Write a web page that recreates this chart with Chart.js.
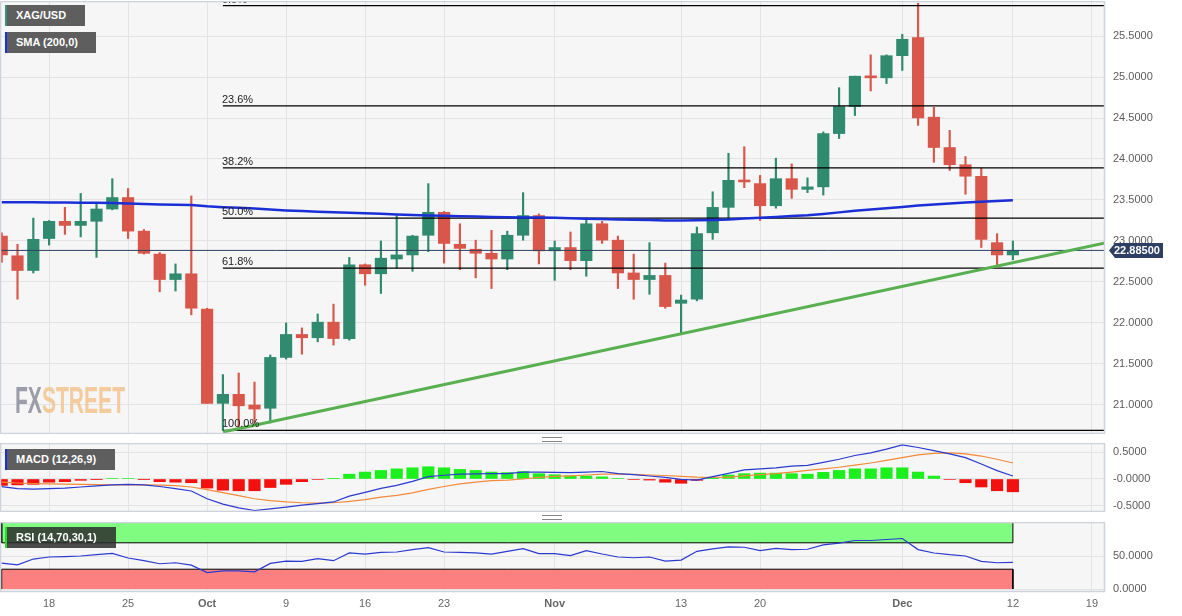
<!DOCTYPE html>
<html>
<head>
<meta charset="utf-8">
<script src="https://cdn.jsdelivr.net/npm/chart.js@4.4.0/dist/chart.umd.min.js"></script>
<style>
  body { margin: 0; width: 1182px; height: 616px; overflow: hidden; position: relative; background: #fff;
         font-family: "Liberation Sans", Arial, sans-serif; }
  .panel { position: absolute; left: 0; width: 1182px; }
  .etiqueta { position: absolute; left: 5px; height: 21px; line-height: 21px; box-sizing: border-box;
              background: #5e5e5e; color: #fff; font-weight: bold; font-size: 11px; padding-left: 9px;
              border-left: 2.5px solid; white-space: nowrap; }
  .marca { position: absolute; left: 15px; top: 380px; font-weight: bold; font-size: 36px; letter-spacing: 0;
           transform: scaleX(0.585); transform-origin: left top; opacity: 0.85; }
  .asa { position: absolute; left: 542px; width: 20px; height: 3px; border-top: 1px solid #888; border-bottom: 1px solid #888; }
</style>
</head>
<body>
<div class="panel" style="top:1px;height:433px"><canvas id="graficoPrecio"></canvas></div>
<div class="panel" style="top:443px;height:69px"><canvas id="graficoMacd"></canvas></div>
<div class="panel" style="top:522px;height:95px"><canvas id="graficoRsi"></canvas></div>

<div class="etiqueta" style="top:5px;width:80px;border-color:#3b8f72">XAG/USD</div>
<div class="etiqueta" style="top:32px;width:91px;border-color:#1530e0">SMA (200,0)</div>
<div class="etiqueta" style="top:449px;width:110px;border-color:#1530e0">MACD (12,26,9)</div>
<div class="etiqueta" style="top:527px;width:111px;border-color:#22dd22;background:rgba(45,45,45,0.85)">RSI (14,70,30,1)</div>
<div class="marca"><span style="color:#8e8e9c">FX</span><span style="color:#f2c48e">STREET</span></div>
<div class="asa" style="top:437px"></div>
<div class="asa" style="top:515px"></div>

<script>
// velas diarias XAG/USD, 13 sep - 12 dic
const apertura = [23.06, 22.82, 22.64, 23.03, 23.24, 23.19, 23.24, 23.39, 23.53, 23.12,
                  22.84, 22.53, 22.60, 22.17, 21.02, 21.13, 21.00, 20.96, 21.58, 21.86,
                  21.82, 22.01, 21.81, 22.71, 22.60, 22.78, 22.83, 23.07, 23.35, 22.96,
                  22.90, 22.85, 22.78, 23.07, 23.31, 22.88, 22.92, 22.76, 23.21, 23.01,
                  22.61, 22.53, 22.58, 22.24, 22.29, 23.10, 23.41, 23.74, 23.70, 23.43,
                  23.76, 23.63, 23.66, 24.31, 24.64, 25.01, 24.99, 25.26, 25.48, 24.51,
                  24.14, 23.93, 23.79, 22.98, 22.83];
const maximo = [23.10, 22.96, 23.28, 23.25, 23.41, 23.58, 23.46, 23.76, 23.64, 23.14,
                22.86, 22.72, 23.55, 22.18, 21.37, 21.39, 21.28, 21.61, 22.00, 21.94,
                22.11, 22.23, 22.80, 22.72, 23.00, 23.31, 23.07, 23.70, 23.36, 23.21,
                23.01, 23.13, 23.12, 23.59, 23.33, 23.00, 23.11, 23.28, 23.24, 23.06,
                22.84, 22.98, 22.73, 22.34, 23.17, 23.60, 24.07, 24.15, 23.80, 24.01,
                23.94, 23.77, 24.33, 24.87, 25.01, 25.27, 25.27, 25.52, 25.90, 24.63,
                24.35, 24.03, 23.89, 23.09, 23.00];
const minimo = [22.74, 22.29, 22.61, 22.95, 23.08, 23.05, 22.80, 23.38, 23.03, 22.84,
                22.38, 22.39, 22.10, 21.02, 20.69, 20.72, 20.78, 20.78, 21.56, 21.62,
                21.77, 21.73, 21.79, 22.46, 22.36, 22.67, 22.63, 22.87, 22.73, 22.65,
                22.55, 22.42, 22.65, 23.01, 22.72, 22.52, 22.65, 22.57, 22.97, 22.42,
                22.29, 22.35, 22.18, 21.88, 22.27, 23.02, 23.28, 23.65, 23.25, 23.40,
                23.52, 23.59, 23.56, 24.25, 24.53, 24.83, 24.92, 25.08, 24.41, 23.96,
                23.86, 23.57, 22.92, 22.70, 22.77];
const cierre = [22.83, 22.64, 23.02, 23.24, 23.19, 23.24, 23.39, 23.53, 23.12, 22.85,
                22.53, 22.60, 22.18, 21.02, 21.13, 20.99, 20.95, 21.58, 21.86, 21.82,
                22.01, 21.81, 22.71, 22.60, 22.79, 22.83, 23.06, 23.35, 22.97, 22.91,
                22.85, 22.78, 23.07, 23.31, 22.88, 22.92, 22.76, 23.21, 23.01, 22.61,
                22.53, 22.58, 22.20, 22.28, 23.09, 23.41, 23.74, 23.72, 23.43, 23.76,
                23.63, 23.66, 24.31, 24.64, 25.01, 24.99, 25.26, 25.46, 24.50, 24.14,
                23.93, 23.79, 23.02, 22.83, 22.885];
const sma200 = [23.472, 23.472, 23.471, 23.470, 23.468, 23.467, 23.467, 23.463, 23.456, 23.450,
                23.446, 23.443, 23.439, 23.423, 23.413, 23.404, 23.395, 23.384, 23.373, 23.365,
                23.357, 23.350, 23.344, 23.337, 23.331, 23.324, 23.318, 23.312, 23.307, 23.302,
                23.298, 23.293, 23.289, 23.288, 23.285, 23.282, 23.277, 23.272, 23.268, 23.263,
                23.259, 23.255, 23.250, 23.249, 23.252, 23.257, 23.262, 23.273, 23.283, 23.294,
                23.304, 23.313, 23.329, 23.349, 23.368, 23.383, 23.399, 23.415, 23.432, 23.446,
                23.457, 23.468, 23.478, 23.488, 23.496];
const macd = [-0.144, -0.18, -0.19, -0.18, -0.17, -0.15, -0.13, -0.11, -0.10, -0.11,
              -0.14, -0.18, -0.225, -0.37, -0.47, -0.54, -0.59, -0.56, -0.525, -0.49,
              -0.46, -0.43, -0.32, -0.25, -0.175, -0.12, -0.045, 0.044, 0.07, 0.09,
              0.095, 0.10, 0.10, 0.13, 0.13, 0.125, 0.12, 0.13, 0.14, 0.10,
              0.08, 0.056, 0.03, -0.006, -0.02, 0.044, 0.106, 0.17, 0.19, 0.21,
              0.24, 0.256, 0.31, 0.37, 0.44, 0.49, 0.56, 0.64, 0.59, 0.53,
              0.47, 0.40, 0.28, 0.156, 0.056];
const senal = [-0.06, -0.075, -0.085, -0.09, -0.095, -0.10, -0.105, -0.11, -0.11, -0.11,
               -0.115, -0.125, -0.15, -0.20, -0.255, -0.31, -0.37, -0.405, -0.43, -0.445,
               -0.45, -0.445, -0.42, -0.385, -0.34, -0.305, -0.26, -0.195, -0.14, -0.09,
               -0.06, -0.03, -0.02, 0.0, 0.03, 0.05, 0.06, 0.075, 0.09, 0.09,
               0.085, 0.075, 0.065, 0.05, 0.035, 0.03, 0.035, 0.06, 0.08, 0.10,
               0.13, 0.16, 0.19, 0.22, 0.26, 0.30, 0.35, 0.40, 0.45, 0.48,
               0.49, 0.47, 0.43, 0.37, 0.30];
const histograma = [-0.12, -0.11, -0.10, -0.06, -0.05, -0.025, -0.005, 0.01, 0.01, -0.005,
                    -0.05, -0.06, -0.07, -0.17, -0.21, -0.22, -0.22, -0.16, -0.10, -0.05,
                    -0.01, 0.005, 0.09, 0.13, 0.16, 0.19, 0.21, 0.23, 0.21, 0.18,
                    0.16, 0.13, 0.12, 0.14, 0.10, 0.08, 0.06, 0.055, 0.04, 0.01,
                    -0.01, -0.02, -0.06, -0.08, -0.025, 0.02, 0.075, 0.10, 0.11, 0.11,
                    0.10, 0.09, 0.125, 0.16, 0.19, 0.19, 0.21, 0.21, 0.13, 0.055,
                    -0.01, -0.07, -0.15, -0.22, -0.24];
const rsi = [39.3, 36.7, 45.4, 48.5, 49, 50, 52, 54, 47, 43,
             38.3, 39.8, 36.2, 25, 27.6, 27.6, 26, 38.8, 42.3, 41.8,
             45.9, 42.9, 54.6, 53, 55.6, 56.1, 59.7, 62.8, 56.1, 55.6,
             54.6, 53, 57.1, 61.2, 53.6, 53.6, 50.5, 58.2, 53, 48.5,
             47.4, 48.5, 42.3, 43.9, 57.1, 60.7, 63.8, 63.3, 58.2, 61.7,
             59.7, 60.2, 66.8, 69.4, 73.5, 73.5, 75, 76.5, 59.7, 54.6,
             52, 50, 41.8, 39.8, 40.3];

// eje de fechas: posicion (indice de sesion) y texto
const posFechas = [3, 8, 13, 18, 23, 28, 35, 43, 48, 57, 64, 69];
const textoFechas = ['18', '25', 'Oct', '9', '16', '23', 'Nov', '13', '20', 'Dec', '12', '19'];
const meses = ['Oct', 'Nov', 'Dec'];
const ticksPrecio = [21, 21.5, 22, 22.5, 23, 23.5, 24, 24.5, 25, 25.5];
const ticksMacd = [-0.5, 0, 0.5];
const ticksRsi = [0, 50];

// fibonacci entre el minimo del 3 oct y el maximo del 4 dic
const fibAlto = 25.87;
const fibBajo = 20.69;
const fibInicio = 14;
const nivelesFib = [0, 23.6, 38.2, 50, 61.8, 100];
const lineaTendencia = [[14, 20.67], [69.83, 22.976]];

const X_MIN = -0.108;
const X_MAX = 69.83;
const ultimo = cierre.length - 1;
const VERDE = '#2f8a6e';
const ROJO = '#d9574a';

Chart.defaults.font.family = '"Liberation Sans", Arial, sans-serif';
Chart.defaults.font.size = 11;
Chart.defaults.color = '#5c5c5c';
Chart.defaults.animation = false;
Chart.defaults.events = [];

const fondoPanel = {
    id: 'fondoPanel',
    beforeDraw(chart) {
        const { ctx, chartArea: a } = chart;
        ctx.save();
        ctx.fillStyle = '#f6f6f6';
        ctx.fillRect(a.left, a.top, a.right - a.left, a.bottom - a.top);
        ctx.restore();
    },
    afterDraw(chart) {
        const { ctx, chartArea: a } = chart;
        ctx.save();
        ctx.strokeStyle = '#cdd2dc';
        ctx.lineWidth = 1.5;
        ctx.strokeRect(a.left + 0.5, a.top + 0.5, a.right - a.left - 1, a.bottom - a.top - 1);
        ctx.restore();
    }
};

const etiquetasFib = {
    id: 'etiquetasFib',
    afterDatasetsDraw(chart) {
        const { ctx, scales: { x, y } } = chart;
        ctx.save();
        ctx.font = '11px "Liberation Sans", Arial, sans-serif';
        ctx.fillStyle = '#222';
        nivelesFib.forEach(p => {
            const v = fibAlto - (fibAlto - fibBajo) * p / 100;
            ctx.fillText(p.toFixed(1) + '%', x.getPixelForValue(fibInicio) - 1, y.getPixelForValue(v) - 3);
        });
        ctx.restore();
    }
};

const etiquetaPrecio = {
    id: 'etiquetaPrecio',
    afterDraw(chart) {
        const { ctx, chartArea: a, scales: { y } } = chart;
        const precio = cierre[ultimo];
        const py = y.getPixelForValue(precio);
        const x0 = a.right + 4, x1 = x0 + 6, x2 = a.right + 58, h = 7.5;
        ctx.save();
        ctx.fillStyle = '#2d3f63';
        ctx.beginPath();
        ctx.moveTo(x0, py);
        ctx.lineTo(x1, py - h);
        ctx.lineTo(x2, py - h);
        ctx.lineTo(x2, py + h);
        ctx.lineTo(x1, py + h);
        ctx.closePath();
        ctx.fill();
        ctx.fillStyle = '#fff';
        ctx.font = 'bold 11px "Liberation Sans", Arial, sans-serif';
        ctx.textBaseline = 'middle';
        ctx.fillText(precio.toFixed(5), x1 - 1, py + 0.5);
        ctx.restore();
    }
};

function ejeX(conTextos) {
    return {
        type: 'linear',
        min: X_MIN,
        max: X_MAX,
        offset: false,
        afterBuildTicks: s => { s.ticks = posFechas.map(v => ({ value: v })); },
        afterFit: s => { s.height = conTextos ? 25 : 0; s.paddingLeft = 0; s.paddingRight = 0; },
        grid: { color: '#e3e3e3', drawTicks: false, offset: false },
        border: { display: false },
        ticks: {
            display: conTextos,
            autoSkip: false,
            maxRotation: 0,
            padding: 5,
            color: '#666',
            font: c => ({ size: 11, weight: meses.includes(textoFechas[c.index]) ? 'bold' : 'normal' }),
            callback: (v, i) => textoFechas[i]
        }
    };
}

function ejeY(min, max, ticks, formato) {
    return {
        type: 'linear',
        position: 'right',
        min: min,
        max: max,
        afterBuildTicks: s => { s.ticks = ticks.map(v => ({ value: v })); },
        afterFit: s => { s.width = 77; s.paddingTop = 0; s.paddingBottom = 0; },
        grid: { color: '#e3e3e3', drawTicks: false },
        border: { display: false },
        ticks: { padding: 8, callback: formato }
    };
}

function linea(puntos, color, ancho, orden) {
    return {
        type: 'line',
        data: puntos,
        borderColor: color,
        borderWidth: ancho,
        pointRadius: 0,
        tension: 0,
        fill: false,
        order: orden
    };
}

function colorVela(i) {
    return cierre[i] >= apertura[i] ? VERDE : ROJO;
}

function crearGraficoPrecio() {
    const cuerpos = apertura.map((o, i) => ({ x: i, y: [o, cierre[i]] }));
    const mechas = apertura.map((o, i) => ({ x: i, y: [minimo[i], maximo[i]] }));
    const puntosFib = [];
    nivelesFib.forEach(p => {
        const v = fibAlto - (fibAlto - fibBajo) * p / 100;
        puntosFib.push({ x: fibInicio, y: v }, { x: X_MAX, y: v }, { x: X_MAX, y: null });
    });

    new Chart(document.getElementById('graficoPrecio'), {
        type: 'bar',
        data: {
            datasets: [
                {
                    data: cuerpos,
                    backgroundColor: c => colorVela(c.dataIndex),
                    barThickness: 11.5,
                    minBarLength: 2,
                    grouped: false,
                    order: 10
                },
                {
                    data: mechas,
                    backgroundColor: c => colorVela(c.dataIndex),
                    barThickness: 1.5,
                    grouped: false,
                    order: 11
                },
                Object.assign(linea(puntosFib, '#000', 1.3, 5), { spanGaps: false }),
                linea([{ x: X_MIN, y: cierre[ultimo] }, { x: X_MAX, y: cierre[ultimo] }], '#2d3f63', 1, 4),
                linea(sma200.map((v, i) => ({ x: i, y: v })), '#1a2fd6', 2.5, 3),
                linea(lineaTendencia.map(p => ({ x: p[0], y: p[1] })), '#58b051', 3, 2)
            ]
        },
        options: {
            responsive: true,
            maintainAspectRatio: false,
            layout: { padding: 0 },
            plugins: { legend: { display: false }, tooltip: { enabled: false } },
            scales: {
                x: ejeX(false),
                y: ejeY(20.646, 25.927, ticksPrecio, v => v.toFixed(4))
            }
        },
        plugins: [fondoPanel, etiquetasFib, etiquetaPrecio]
    });
}

function crearGraficoMacd() {
    new Chart(document.getElementById('graficoMacd'), {
        type: 'bar',
        data: {
            datasets: [
                {
                    data: histograma.map((v, i) => ({ x: i, y: v })),
                    backgroundColor: histograma.map(v => v >= 0 ? '#1cf01c' : '#f51010'),
                    barThickness: 11.5,
                    grouped: false,
                    order: 3
                },
                linea(senal.map((v, i) => ({ x: i, y: v })), '#f28a3a', 1.2, 2),
                linea(macd.map((v, i) => ({ x: i, y: v })), '#2a3ad0', 1.2, 1)
            ]
        },
        options: {
            responsive: true,
            maintainAspectRatio: false,
            layout: { padding: 0 },
            plugins: { legend: { display: false }, tooltip: { enabled: false } },
            scales: {
                x: ejeX(false),
                y: ejeY(-0.618, 0.674, ticksMacd, v => v === 0 ? '-0.0000' : v.toFixed(4))
            }
        },
        plugins: [fondoPanel]
    });
}

function crearGraficoRsi() {
    const zona = (borde, limite) => [
        { x: 0, y: limite }, { x: 0, y: borde }, { x: ultimo, y: borde }, { x: ultimo, y: limite }
    ];
    const sobrecompra = Object.assign(linea(zona(70, 100), '#000', 1, 3), { fill: { value: 100 }, backgroundColor: '#80fc80' });
    const sobreventa = Object.assign(linea(zona(30, 0), '#000', 1, 3), { fill: { value: 0 }, backgroundColor: '#fd8080' });

    new Chart(document.getElementById('graficoRsi'), {
        type: 'line',
        data: {
            datasets: [
                sobrecompra,
                sobreventa,
                linea(rsi.map((v, i) => ({ x: i, y: v })), '#2a3ad0', 1.2, 1)
            ]
        },
        options: {
            responsive: true,
            maintainAspectRatio: false,
            layout: { padding: 0 },
            plugins: { legend: { display: false }, tooltip: { enabled: false } },
            scales: {
                x: ejeX(true),
                y: ejeY(-4.5, 101.5, ticksRsi, v => v.toFixed(4))
            }
        },
        plugins: [fondoPanel]
    });
}

crearGraficoPrecio();
crearGraficoMacd();
crearGraficoRsi();
</script>
</body>
</html>
